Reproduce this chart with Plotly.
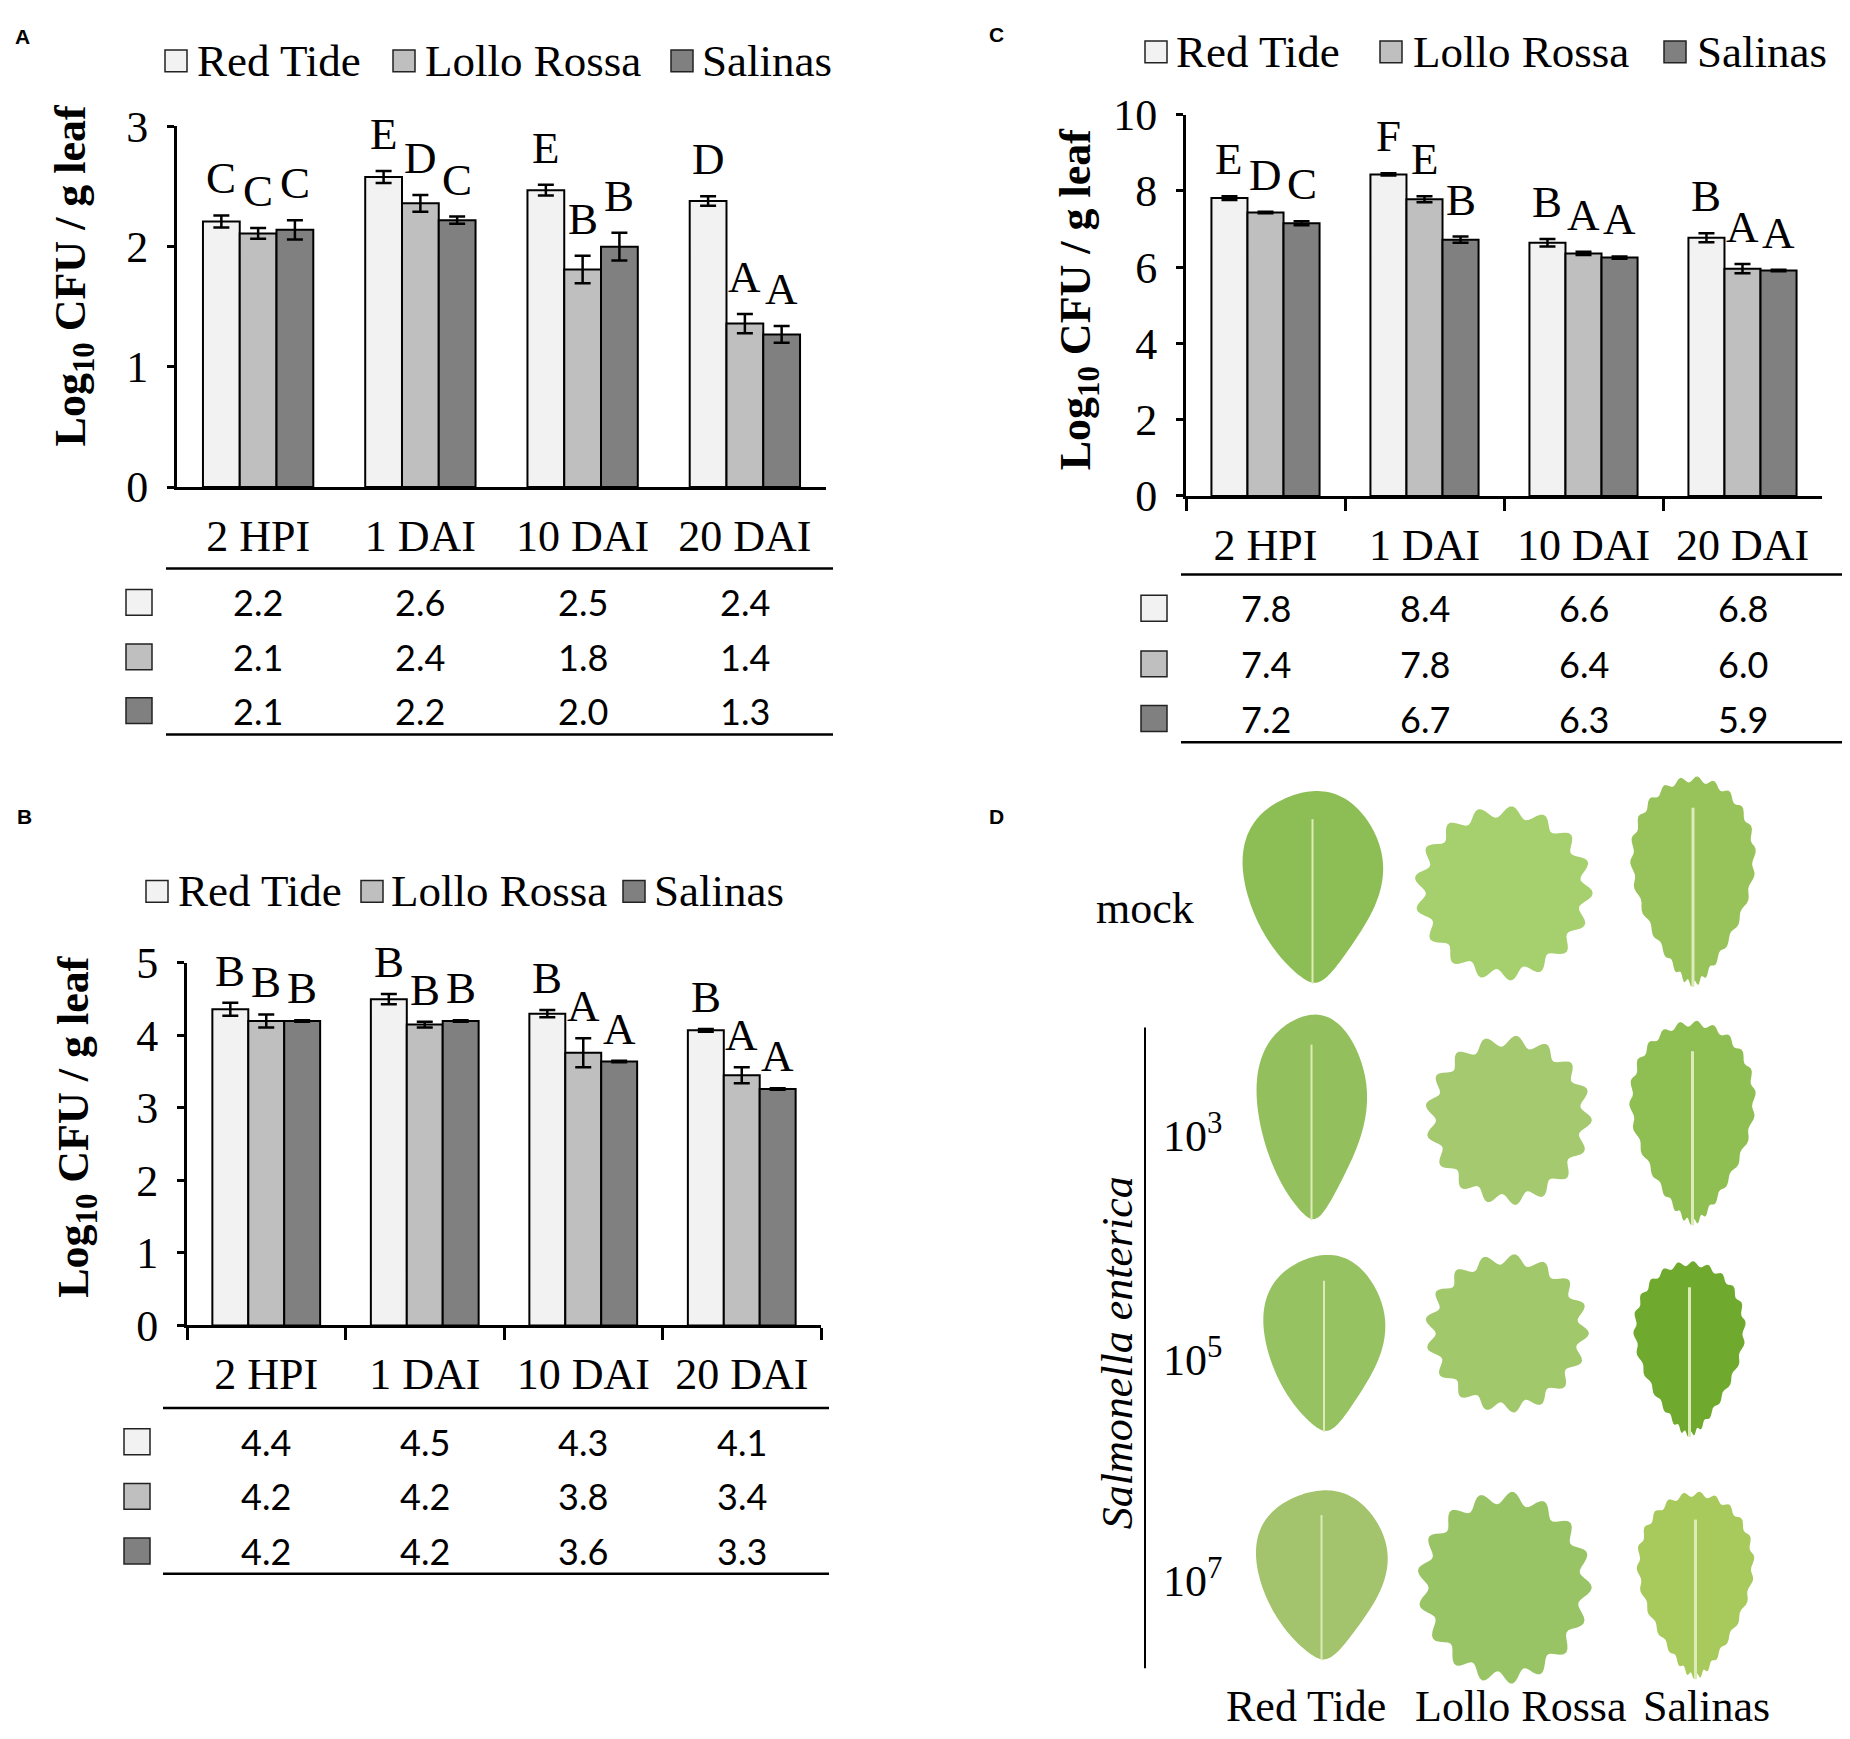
import math
import plotly.graph_objects as go

W, H = 1850, 1739
SERIF = 'Liberation Serif'
SANS = 'Lato'
ARIAL = 'Liberation Sans'

cats = ['2 HPI', '1 DAI', '10 DAI', '20 DAI']
cultivars = ['Red Tide', 'Lollo Rossa', 'Salinas']
colors = ['#f2f2f2', '#bfbfbf', '#808080']

# panel A
a_red = [2.21, 2.58, 2.47, 2.38]
a_lollo = [2.11, 2.36, 1.81, 1.36]
a_salinas = [2.14, 2.22, 2.00, 1.27]
a_red_err = [0.05, 0.05, 0.045, 0.04]
a_lollo_err = [0.045, 0.07, 0.115, 0.08]
a_salinas_err = [0.08, 0.03, 0.115, 0.07]
a_red_let = ['C', 'E', 'E', 'D']
a_lollo_let = ['C', 'D', 'B', 'A']
a_salinas_let = ['C', 'C', 'B', 'A']
a_tab_red = ['2.2', '2.6', '2.5', '2.4']
a_tab_lollo = ['2.1', '2.4', '1.8', '1.4']
a_tab_salinas = ['2.1', '2.2', '2.0', '1.3']

# panel B
b_red = [4.36, 4.50, 4.30, 4.07]
b_lollo = [4.20, 4.15, 3.76, 3.45]
b_salinas = [4.20, 4.20, 3.64, 3.26]
b_red_err = [0.09, 0.07, 0.05, 0.02]
b_lollo_err = [0.09, 0.04, 0.2, 0.11]
b_salinas_err = [0.01, 0.01, 0.01, 0.01]
b_red_let = ['B', 'B', 'B', 'B']
b_lollo_let = ['B', 'B', 'A', 'A']
b_salinas_let = ['B', 'B', 'A', 'A']
b_tab_red = ['4.4', '4.5', '4.3', '4.1']
b_tab_lollo = ['4.2', '4.2', '3.8', '3.4']
b_tab_salinas = ['4.2', '4.2', '3.6', '3.3']

# panel C
c_red = [7.81, 8.43, 6.64, 6.77]
c_lollo = [7.43, 7.78, 6.36, 5.96]
c_salinas = [7.15, 6.72, 6.25, 5.91]
c_red_err = [0.05, 0.03, 0.1, 0.12]
c_lollo_err = [0.02, 0.08, 0.04, 0.12]
c_salinas_err = [0.05, 0.08, 0.03, 0.02]
c_red_let = ['E', 'F', 'B', 'B']
c_lollo_let = ['D', 'E', 'A', 'A']
c_salinas_let = ['C', 'B', 'A', 'A']
c_tab_red = ['7.8', '8.4', '6.6', '6.8']
c_tab_lollo = ['7.4', '7.8', '6.4', '6.0']
c_tab_salinas = ['7.2', '6.7', '6.3', '5.9']

# panel D
d_rows = ['mock', '10<sup>3</sup>', '10<sup>5</sup>', '10<sup>7</sup>']


# page coordinates (pixels from top-left) -> paper fractions,
# allowing for the offset/scale seen in the rendered page
def px(x):
    return (x - 8) / W


def fy(y):
    return 846 + 1.012 * ((y - 16) / 0.99 - 846)


def py(y):
    return 1 - fy(y) / H


def ann(x, y, text, size, family=SERIF, **kw):
    d = dict(x=px(x), y=py(y), xref='paper', yref='paper', text=text,
             showarrow=False, xanchor='center', yanchor='middle',
             font=dict(family=family, size=size, color='black'))
    d.update(kw)
    return d


def rect(x0, x1, y0, y1, fill):
    return dict(type='rect', xref='paper', yref='paper',
                x0=px(x0), x1=px(x1), y0=py(y1), y1=py(y0),
                fillcolor=fill, line=dict(color='#222', width=1.5))


def hline(x0, x1, y, width=2.5):
    return dict(type='line', xref='paper', yref='paper',
                x0=px(x0), x1=px(x1), y0=py(y), y1=py(y),
                line=dict(color='black', width=width))


panels = [
    dict(name='x', yname='y', label='A', lab_xy=(22, 30),
         x=(177, 826), y=(484, 121), rng=3, dtick=1, ticks_x='',
         means=[a_red, a_lollo, a_salinas],
         errs=[a_red_err, a_lollo_err, a_salinas_err],
         lets=[a_red_let, a_lollo_let, a_salinas_let],
         tab=[a_tab_red, a_tab_lollo, a_tab_salinas],
         title_xy=(73, 271), leg_y=55, leg_box=[176, 404, 682], leg_txt=[195, 423, 700],
         tab_lines=(166, 833, 566, 733), rows=[600, 655, 709], sw_x=139, let_shift=37),
    dict(name='x2', yname='y2', label='B', lab_xy=(24, 816),
         x=(187, 821), y=(1328, 963), rng=5, dtick=1, ticks_x='outside',
         means=[b_red, b_lollo, b_salinas],
         errs=[b_red_err, b_lollo_err, b_salinas_err],
         lets=[b_red_let, b_lollo_let, b_salinas_let],
         tab=[b_tab_red, b_tab_lollo, b_tab_salinas],
         title_xy=(77, 1128), leg_y=891, leg_box=[157, 372, 634], leg_txt=[176, 389, 652],
         tab_lines=(163, 829, 1411, 1578), rows=[1445, 1500, 1555], sw_x=137, let_shift=32),
    dict(name='x3', yname='y3', label='C', lab_xy=(996, 28),
         x=(1186, 1822), y=(493, 109), rng=10, dtick=2, ticks_x='outside',
         means=[c_red, c_lollo, c_salinas],
         errs=[c_red_err, c_lollo_err, c_salinas_err],
         lets=[c_red_let, c_lollo_let, c_salinas_let],
         tab=[c_tab_red, c_tab_lollo, c_tab_salinas],
         title_xy=(1078, 295), leg_y=46, leg_box=[1156, 1391, 1675], leg_txt=[1174, 1411, 1695],
         tab_lines=(1181, 1847, 572, 741), rows=[606, 662, 717], sw_x=1154, let_shift=37),
]

BARGAP = 0.32
bw = (1 - BARGAP) / 3

fig = go.Figure()
annotations = []
shapes = []
layout_axes = {}

for p in panels:
    for i in range(3):
        fig.add_trace(go.Bar(
            x=cats, y=p['means'][i], name=cultivars[i], showlegend=False,
            xaxis=p['name'], yaxis=p['yname'],
            marker=dict(color=colors[i], line=dict(color='black', width=2)),
            error_y=dict(type='data', array=p['errs'][i], color='black',
                         thickness=2.5, width=8),
        ))
        # significance letters
        for j in range(4):
            annotations.append(dict(
                x=j + (i - 1) * bw, y=p['means'][i][j] + p['errs'][i][j],
                xref=p['name'], yref=p['yname'], text=p['lets'][i][j],
                showarrow=False, xanchor='center', yanchor='middle',
                yshift=p['let_shift'],
                font=dict(family=SERIF, size=45, color='black')))
        # legend
        bx = p['leg_box'][i]
        ly = p['leg_y']
        shapes.append(rect(bx - 11, bx + 11, ly - 11, ly + 11, colors[i]))
        annotations.append(ann(p['leg_txt'][i], ly, cultivars[i], 45, xanchor='left'))
        # table rows
        ry = p['rows'][i]
        sx = p['sw_x']
        shapes.append(rect(sx - 13, sx + 13, ry - 13, ry + 13, colors[i]))
        for j in range(4):
            annotations.append(dict(x=cats[j], y=py(ry), xref=p['name'], yref='paper',
                                    text=p['tab'][i][j], showarrow=False,
                                    xanchor='center', yanchor='middle',
                                    font=dict(family=SANS, size=36, color='black')))

    tx0, tx1, ty0, ty1 = p['tab_lines']
    shapes.append(hline(tx0, tx1, ty0))
    shapes.append(hline(tx0, tx1, ty1))

    annotations.append(ann(p['title_xy'][0], p['title_xy'][1],
                           '<b>Log<sub>10</sub> CFU / g leaf</b>', 44, textangle=-90))
    annotations.append(ann(p['lab_xy'][0], p['lab_xy'][1], '<b>%s</b>' % p['label'],
                           21, family=ARIAL))

    xkey = 'xaxis' + p['name'][1:]
    ykey = 'yaxis' + p['yname'][1:]
    layout_axes[xkey] = dict(
        domain=[px(p['x'][0]), px(p['x'][1])], anchor=p['yname'],
        type='category', range=[-0.5, 3.5], showline=True, linecolor='black',
        linewidth=3, ticks=p['ticks_x'], tickson='boundaries', ticklen=12,
        tickwidth=2.5, tickcolor='black', showgrid=False, zeroline=False,
        ticklabelstandoff=8, fixedrange=True,
        tickfont=dict(family=SERIF, size=44, color='black'))
    layout_axes[ykey] = dict(
        domain=[py(p['y'][0]), py(p['y'][1])], anchor=p['name'],
        range=[0, p['rng']], dtick=p['dtick'], showline=True, linecolor='black',
        linewidth=3, ticks='outside', ticklen=7, tickwidth=2.5, tickcolor='black',
        showgrid=False, zeroline=False, ticklabelstandoff=10,
        tickfont=dict(family=SERIF, size=44, color='black'))


# ---- panel D: leaf sketches ----
def leaf_path(box, taper, amp, k, n=180):
    x0, x1, y0, y1 = box
    cx, cy = (x0 + x1) / 2, (y0 + y1) / 2
    hw, hh = (x1 - x0) / 2 / (1 + amp), (y1 - y0) / 2 / (1 + amp)
    pts = []
    for i in range(n):
        t = 2 * math.pi * i / n
        yn = -math.cos(t)
        u = (yn + 1) / 2
        xn = math.sin(t) * (1 - taper * u ** 2)
        r = 1 + amp * math.sin(k * t)
        pts.append('%.5f,%.5f' % (px(cx + xn * r * hw), py(cy + yn * r * hh)))
    return 'M' + ' L'.join(pts) + ' Z'


leaf_boxes = [
    [(1233, 1392, 789, 984), (1412, 1595, 805, 981), (1622, 1764, 775, 987)],
    [(1249, 1374, 1014, 1222), (1423, 1594, 1036, 1207), (1621, 1764, 1021, 1227)],
    [(1255, 1393, 1256, 1435), (1423, 1591, 1256, 1416), (1626, 1753, 1263, 1440)],
    [(1247, 1396, 1493, 1665), (1415, 1594, 1495, 1689), (1629, 1762, 1495, 1684)],
]
leaf_colors = [
    ['#8dbd55', '#a6cf6e', '#98c35a'],
    ['#93c05c', '#a4c96f', '#8fbf52'],
    ['#96c262', '#a2c86c', '#6fa92e'],
    ['#a3c46c', '#98c466', '#a8c95c'],
]
leaf_style = [(0.55, 0.012, 5), (0.1, 0.07, 17), (0.6, 0.03, 26)]
row_y = [908, 1135, 1360, 1583]

for r in range(4):
    for c in range(3):
        taper, amp, k = leaf_style[c]
        box = leaf_boxes[r][c]
        shapes.append(dict(type='path', xref='paper', yref='paper',
                           path=leaf_path(box, taper, amp, k),
                           fillcolor=leaf_colors[r][c], line=dict(width=0)))
        if c != 1:
            cx = (box[0] + box[1]) / 2
            shapes.append(dict(type='line', xref='paper', yref='paper',
                               x0=px(cx), x1=px(cx),
                               y0=py(box[2] + 0.15 * (box[3] - box[2])), y1=py(box[3]),
                               line=dict(color='#dcebb8', width=3 if c == 2 else 2)))
    annotations.append(ann(1145 if r == 0 else 1192, row_y[r], d_rows[r], 44))

for name, xc in zip(cultivars, [1306, 1520, 1706]):
    annotations.append(ann(xc, 1712, name, 44))

annotations.append(ann(1117, 1356, '<i>Salmonella enterica</i>', 44, textangle=-90))
annotations.append(ann(996, 816, '<b>D</b>', 21, family=ARIAL))
shapes.append(dict(type='line', xref='paper', yref='paper', x0=px(1145), x1=px(1145),
                   y0=py(1028), y1=py(1673), line=dict(color='black', width=2)))

fig.update_layout(
    width=W, height=H, margin=dict(l=0, r=0, t=0, b=0),
    paper_bgcolor='white', plot_bgcolor='white',
    barmode='group', bargap=BARGAP, bargroupgap=0,
    showlegend=False, annotations=annotations, shapes=shapes,
    **layout_axes)

fig.write_html('out.html')
